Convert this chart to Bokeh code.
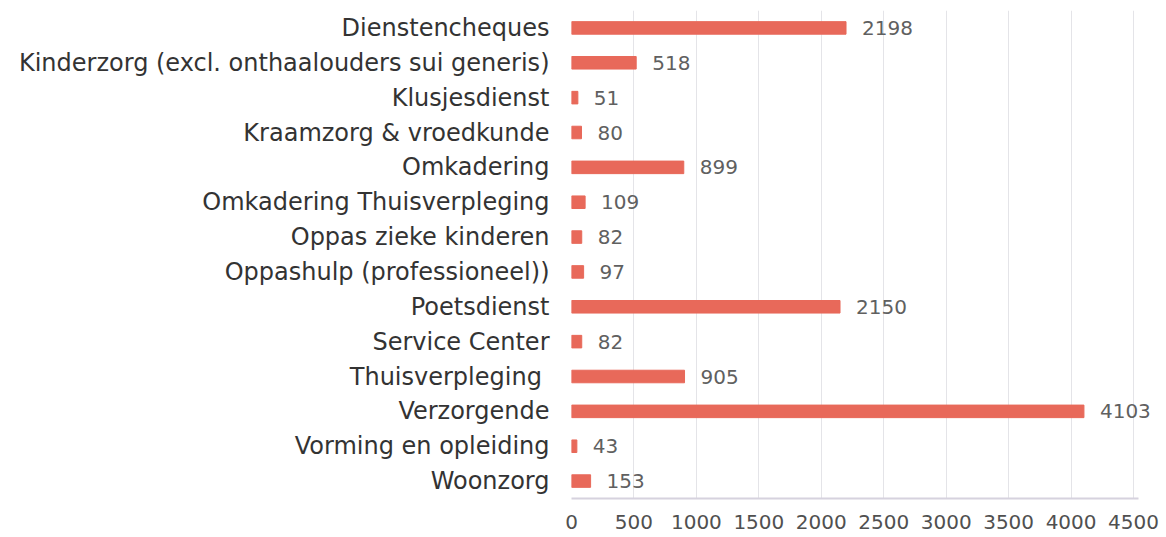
from bokeh.plotting import figure
from bokeh.models import ColumnDataSource, FactorRange, Range1d, FixedTicker, LabelSet
from bokeh.core.properties import value
from bokeh.embed import file_html
from bokeh.resources import INLINE

categories = [
    "Dienstencheques",
    "Kinderzorg (excl. onthaalouders sui generis)",
    "Klusjesdienst",
    "Kraamzorg & vroedkunde",
    "Omkadering",
    "Omkadering Thuisverpleging",
    "Oppas zieke kinderen",
    "Oppashulp (professioneel))",
    "Poetsdienst",
    "Service Center",
    "Thuisverpleging ",
    "Verzorgende",
    "Vorming en opleiding",
    "Woonzorg",
]
counts = [2198, 518, 51, 80, 899, 109, 82, 97, 2150, 82, 905, 4103, 43, 153]
x_ticks = [0, 500, 1000, 1500, 2000, 2500, 3000, 3500, 4000, 4500]

src = ColumnDataSource(dict(cat=categories, val=counts, lab=[str(v) for v in counts]))

FONT = "DejaVu Sans"
p = figure(
    width=1160, height=537,
    y_range=FactorRange(factors=list(reversed(categories)), range_padding=0),
    x_range=Range1d(0, 4716),
    output_backend="svg", toolbar_location=None,
    min_border_left=571, min_border_right=0, min_border_top=10, min_border_bottom=39,
)
p.hbar(y="cat", right="val", left=0, height=0.36, source=src, color="#E8695A")
labels = LabelSet(x="val", y="cat", text="lab", source=src, x_offset=16,
                  text_baseline="middle", text_align="left",
                  text_font=value(FONT), text_font_size="20px", text_color="#606060")
p.add_layout(labels)

p.outline_line_color = None
p.ygrid.grid_line_color = None
p.xgrid.grid_line_color = "#E4E4E8"
p.xgrid.ticker = FixedTicker(ticks=x_ticks)
p.xaxis.ticker = FixedTicker(ticks=x_ticks)
p.xaxis.bounds = (-40, 4540)
p.xaxis.axis_line_color = "#D6D2DE"
p.xaxis.axis_line_width = 2
p.xaxis.major_tick_line_color = None
p.xaxis.minor_tick_line_color = None
p.xaxis.major_label_text_font = FONT
p.xaxis.major_label_text_font_size = "20px"
p.xaxis.major_label_text_color = "#505050"
p.xaxis.major_label_standoff = 10

p.yaxis.axis_line_color = None
p.yaxis.major_tick_line_color = None
p.yaxis.minor_tick_line_color = None
p.yaxis.major_label_text_font = FONT
p.yaxis.major_label_text_font_size = "24px"
p.yaxis.major_label_text_color = "#333333"
p.yaxis.major_label_standoff = 16

open("out.html", "w").write(file_html(p, INLINE))
